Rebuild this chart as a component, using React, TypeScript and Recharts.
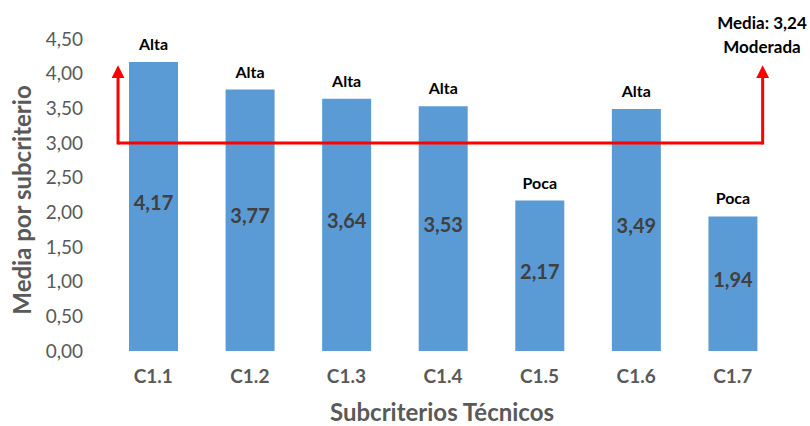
import React from 'react';
import { BarChart, Bar, XAxis, YAxis, LabelList, ReferenceLine } from 'recharts';

const categories = ['C1.1', 'C1.2', 'C1.3', 'C1.4', 'C1.5', 'C1.6', 'C1.7'];
const values = [4.17, 3.77, 3.64, 3.53, 2.17, 3.49, 1.94];
const levels = ['Alta', 'Alta', 'Alta', 'Alta', 'Poca', 'Alta', 'Poca'];
const yTicks = [0, 0.5, 1, 1.5, 2, 2.5, 3, 3.5, 4, 4.5];
const meanValue = 3.24;
const meanLevel = 'Moderada';
const thresholdY = 3.0;
const arrowTopY = 3.95;
const arrowLeftX = 0.135;
const arrowRightX = 6.81;

const data = categories.map((c, i) => ({ name: c, value: values[i], level: levels[i], pos: i + 0.5 }));

const fmt = (v: number) => v.toFixed(2).replace('.', ',');
const FONT = 'Lato, "Open Sans", sans-serif';
const RED = '#FF0000';

export default function App() {
  return (
    <div style={{ position: 'absolute', left: 0, top: 0, width: 810, height: 426, background: '#fff' }}>
      <BarChart width={810} height={426} data={data} margin={{ top: 39, right: 29, bottom: 0, left: 0 }}>
        <defs>
          <marker id="arrowRed" markerUnits="userSpaceOnUse" markerWidth={14} markerHeight={14} refX={1} refY={6.5} orient="auto">
            <path d="M0,0 L13,6.5 L0,13 Z" fill={RED} />
          </marker>
        </defs>
        <XAxis
          dataKey="name"
          axisLine={false}
          tickLine={false}
          tickSize={0}
          tickMargin={19}
          height={75}
          interval={0}
          tick={{ fill: '#595959', fontSize: 19, fontWeight: 700, fontFamily: FONT }}
        />
        <XAxis xAxisId="num" dataKey="pos" type="number" domain={[0, 7]} hide allowDataOverflow />
        <YAxis
          domain={[0, 4.5]}
          ticks={yTicks}
          interval={0}
          axisLine={false}
          tickLine={false}
          tickSize={0}
          tickMargin={22}
          width={105}
          tickFormatter={fmt}
          tick={{ fill: '#595959', fontSize: 19, fontFamily: FONT }}
        />
        <Bar dataKey="value" fill="#5B9BD5" barSize={49} isAnimationActive={false}>
          <LabelList dataKey="value" position="center" dy={-4} formatter={(v: any) => fmt(Number(v))} fill="#404040" fontSize={20} fontWeight={700} fontFamily={FONT} />
          <LabelList dataKey="level" position="top" offset={12} fill="#000" fontSize={16} fontWeight={700} fontFamily={FONT} />
        </Bar>
        <ReferenceLine xAxisId="num" segment={[{ x: arrowLeftX, y: thresholdY }, { x: arrowRightX, y: thresholdY }]} stroke={RED} strokeWidth={3} ifOverflow="visible" />
        <ReferenceLine xAxisId="num" segment={[{ x: arrowLeftX, y: thresholdY }, { x: arrowLeftX, y: arrowTopY }]} stroke={RED} strokeWidth={3} strokeLinecap="square" markerEnd="url(#arrowRed)" ifOverflow="visible" />
        <ReferenceLine xAxisId="num" segment={[{ x: arrowRightX, y: thresholdY }, { x: arrowRightX, y: arrowTopY }]} stroke={RED} strokeWidth={3} strokeLinecap="square" markerEnd="url(#arrowRed)" ifOverflow="visible" />
        <text x={762} y={29} textAnchor="middle" fill="#000" fontSize={17} fontWeight={700} fontFamily={FONT}>{`Media: ${fmt(meanValue)}`}</text>
        <text x={762} y={53} textAnchor="middle" fill="#000" fontSize={17} fontWeight={700} fontFamily={FONT}>{meanLevel}</text>
        <text x={442} y={421} textAnchor="middle" fill="#595959" fontSize={24} fontWeight={700} fontFamily={FONT}>Subcriterios Técnicos</text>
        <text x={31} y={200} textAnchor="middle" transform="rotate(-90 31 200)" fill="#595959" fontSize={24} fontWeight={700} fontFamily={FONT}>Media por subcriterio</text>
      </BarChart>
    </div>
  );
}
